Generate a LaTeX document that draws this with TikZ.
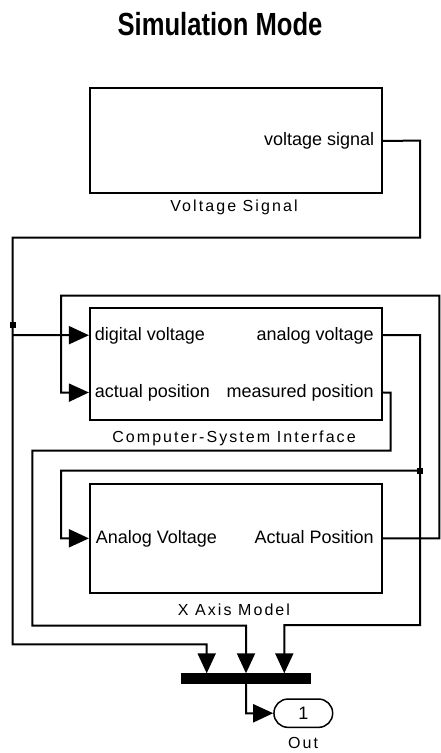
\documentclass[tikz,border=0pt]{standalone}
\usepackage{fontspec}
\setmainfont{Liberation Sans}
\newfontfamily\lblfont[LetterSpace=13]{Liberation Sans}
\usetikzlibrary{arrows.meta,calc}

\begin{document}
\begin{tikzpicture}[x=1pt,y=-1pt,
  wire/.style={line width=2pt, line join=miter},
  sig/.style={wire, -{Triangle[length=20pt,width=18pt]}},
  blockbox/.style={draw, line width=2.2pt, inner sep=0pt, minimum width=291.7pt},
  portlbl/.style={font=\fontsize{18}{20}\selectfont, inner sep=0pt},
  namelbl/.style={font=\lblfont\fontsize{16}{19}\selectfont, inner sep=0pt, anchor=base},
  junction/.style={fill, rectangle, minimum size=6pt, inner sep=0pt}
]
\useasboundingbox (0,0) rectangle (441,753);

% title
\node[anchor=base, inner sep=0pt, font=\fontsize{32}{36}\selectfont\bfseries] (title)
  at (220,35) {\scalebox{0.8}[1]{Simulation Mode}};

% blocks
\node[blockbox, minimum height=105pt]   (vs)  at (235.85,140.8) {};
\node[blockbox, minimum height=112.3pt] (csi) at (235.85,363.85) {};
\node[blockbox, minimum height=108.7pt] (xam) at (235.85,538.35) {};
\node[fill, inner sep=0pt, minimum width=130pt, minimum height=10.7pt] (mux) at (245.7,678.65) {};
\node[draw, line width=1.5pt, rounded corners=14pt, minimum width=58.7pt, minimum height=28.3pt,
      inner sep=0pt, font=\fontsize{18}{20}\selectfont] (out) at (303.3,713.2) {1};

% block names
\node[namelbl] (vsname)  at (234,211.7) {Voltage Signal};
\node[namelbl] (csiname) at (234,442)   {Computer-System Interface};
\node[namelbl] (xamname) at (234,615)   {X Axis Model};
\node[namelbl] (outname) at (303,748)   {Out};

% ports
\coordinate (vs-out)   at (vs.east);
\coordinate (csi-in1)  at ($(csi.north west)!0.25!(csi.south west)$);
\coordinate (csi-in2)  at ($(csi.north west)!0.75!(csi.south west)$);
\coordinate (csi-out1) at ($(csi.north east)!0.25!(csi.south east)$);
\coordinate (csi-out2) at ($(csi.north east)!0.75!(csi.south east)$);
\coordinate (xam-in)   at (xam.west);
\coordinate (xam-out)  at (xam.east);
\coordinate (mux-in1)  at (206.7,673.3);
\coordinate (mux-in2)  at (246,673.3);
\coordinate (mux-in3)  at (284.3,673.3);
\coordinate (mux-out)  at (246,684);
\coordinate (out-in)   at (out.west);

% port labels
\node[portlbl, anchor=base east] (lvs)  at ($(vs-out)+(-8.4,5)$)   {voltage signal};
\node[portlbl, anchor=base west] (lc1)  at ($(csi-in1)+(5.7,5)$)   {digital voltage};
\node[portlbl, anchor=base west] (lc2)  at ($(csi-in2)+(5.7,5)$)   {actual position};
\node[portlbl, anchor=base east] (lc3)  at ($(csi-out1)+(-9,5)$)   {analog voltage};
\node[portlbl, anchor=base east] (lc4)  at ($(csi-out2)+(-9,5)$)   {measured position};
\node[portlbl, anchor=base west] (lx1)  at ($(xam-in)+(6.7,5)$)    {Analog Voltage};
\node[portlbl, anchor=base east] (lx2)  at ($(xam-out)+(-9,5)$)    {Actual Position};

% junction points
\node[junction] (j1) at (12.7,324.5) {};
\node[junction] (j2) at (420,470.7) {};
\coordinate (br1) at (12.7,335);

% signal lines
\draw[sig] (vs-out) -- (420,140.7) -- (420,237.7) -- (12.7,237.7) -- (12.7,644.3)
  -- (206.7,644.3) -- (mux-in1);
\draw[sig] (br1) -- (csi-in1);
\draw[sig] (xam-out) -- (439.3,538.3) -- (439.3,295.7) -- (61,295.7) -- (61,392.7) -- (csi-in2);
\draw[sig] (csi-out1) -- (420,335) -- (420,625) -- (284.3,625) -- (mux-in3);
\draw[sig] (j2.center) -- (61,470.7) -- (61,538.3) -- (xam-in);
\draw[sig] (csi-out2) -- (390.7,392.7) -- (390.7,450.7) -- (32.3,450.7) -- (32.3,625.7)
  -- (246,625.7) -- (mux-in2);
\draw[sig] (mux-out) -- (246,713.3) -- (out-in);
\end{tikzpicture}
\end{document}
